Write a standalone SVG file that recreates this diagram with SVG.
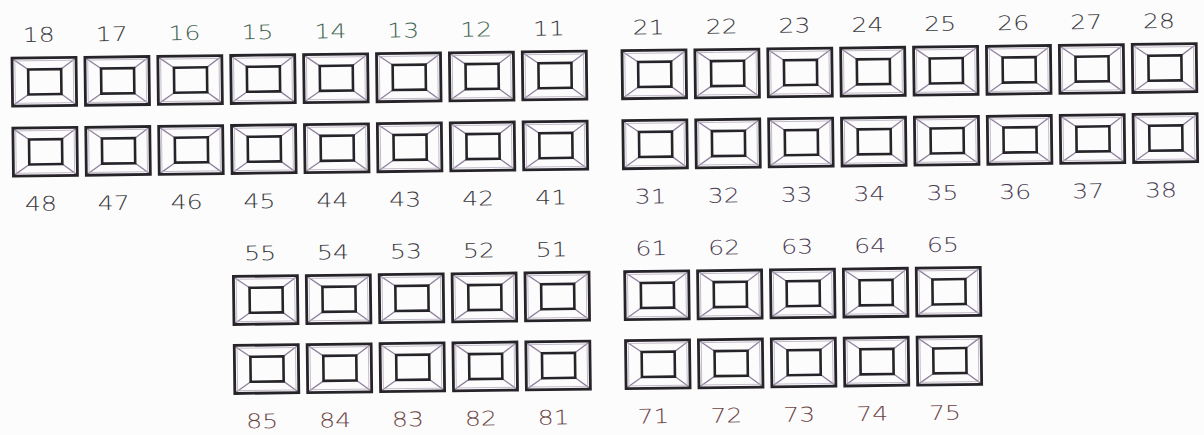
<svg xmlns="http://www.w3.org/2000/svg" xmlns:xlink="http://www.w3.org/1999/xlink" width="1204" height="435" viewBox="0 0 1204 435">
<style>
.outer{fill:none;stroke:#262428;stroke-width:2.8}
.edge{fill:none;stroke:#b4aabd;stroke-width:0.8}
.inner{fill:none;stroke:#262428;stroke-width:2.6}
.diag{stroke:#8f7f9c;stroke-width:1.3}
.lbl{font-family:"DejaVu Sans","Liberation Sans",sans-serif;font-size:20px;font-weight:300;text-anchor:middle;fill:#3a3a3e}
.g{fill:#3d6650}
.r{fill:#6b4444}
.p{fill:#4b3c52}
</style>
<defs>
<g id="tooth">
<line class="diag" x1="1.5" y1="1.5" x2="16" y2="11.5"/>
<line class="diag" x1="62.5" y1="1.5" x2="49" y2="11.5"/>
<line class="diag" x1="1.5" y1="46.5" x2="16" y2="36.5"/>
<line class="diag" x1="62.5" y1="46.5" x2="49" y2="36.5"/>
<rect class="edge" x="2.8" y="2.8" width="58.4" height="42.4"/>
<rect class="inner" x="16" y="11.5" width="33" height="25"/>
<rect class="outer" x="0" y="0" width="64" height="48"/>
</g>
</defs>
<rect width="1204" height="435" fill="#fdfcfd"/>
<g transform="rotate(-0.7 600 217)">
<g id="tooth-18" transform="translate(14 51)"><use href="#tooth"/><text class="lbl" x="27" y="-16" textLength="32" lengthAdjust="spacingAndGlyphs">18</text></g>
<g id="tooth-17" transform="translate(86.9 51)"><use href="#tooth"/><text class="lbl" x="27" y="-16" textLength="32" lengthAdjust="spacingAndGlyphs">17</text></g>
<g id="tooth-16" transform="translate(159.8 51)"><use href="#tooth"/><text class="lbl g" x="27" y="-16" textLength="32" lengthAdjust="spacingAndGlyphs">16</text></g>
<g id="tooth-15" transform="translate(232.7 51)"><use href="#tooth"/><text class="lbl g" x="27" y="-16" textLength="32" lengthAdjust="spacingAndGlyphs">15</text></g>
<g id="tooth-14" transform="translate(305.6 51)"><use href="#tooth"/><text class="lbl g" x="27" y="-16" textLength="32" lengthAdjust="spacingAndGlyphs">14</text></g>
<g id="tooth-13" transform="translate(378.5 51)"><use href="#tooth"/><text class="lbl g" x="27" y="-16" textLength="32" lengthAdjust="spacingAndGlyphs">13</text></g>
<g id="tooth-12" transform="translate(451.4 51)"><use href="#tooth"/><text class="lbl g" x="27" y="-16" textLength="32" lengthAdjust="spacingAndGlyphs">12</text></g>
<g id="tooth-11" transform="translate(524.3 51)"><use href="#tooth"/><text class="lbl" x="27" y="-16" textLength="32" lengthAdjust="spacingAndGlyphs">11</text></g>
<g id="tooth-21" transform="translate(624 51)"><use href="#tooth"/><text class="lbl" x="27" y="-16" textLength="32" lengthAdjust="spacingAndGlyphs">21</text></g>
<g id="tooth-22" transform="translate(696.9 51)"><use href="#tooth"/><text class="lbl" x="27" y="-16" textLength="32" lengthAdjust="spacingAndGlyphs">22</text></g>
<g id="tooth-23" transform="translate(769.8 51)"><use href="#tooth"/><text class="lbl" x="27" y="-16" textLength="32" lengthAdjust="spacingAndGlyphs">23</text></g>
<g id="tooth-24" transform="translate(842.7 51)"><use href="#tooth"/><text class="lbl" x="27" y="-16" textLength="32" lengthAdjust="spacingAndGlyphs">24</text></g>
<g id="tooth-25" transform="translate(915.6 51)"><use href="#tooth"/><text class="lbl" x="27" y="-16" textLength="32" lengthAdjust="spacingAndGlyphs">25</text></g>
<g id="tooth-26" transform="translate(988.5 51)"><use href="#tooth"/><text class="lbl" x="27" y="-16" textLength="32" lengthAdjust="spacingAndGlyphs">26</text></g>
<g id="tooth-27" transform="translate(1061.4 51)"><use href="#tooth"/><text class="lbl" x="27" y="-16" textLength="32" lengthAdjust="spacingAndGlyphs">27</text></g>
<g id="tooth-28" transform="translate(1134.3 51)"><use href="#tooth"/><text class="lbl" x="27" y="-16" textLength="32" lengthAdjust="spacingAndGlyphs">28</text></g>
<g id="tooth-48" transform="translate(14 121)"><use href="#tooth"/><text class="lbl" x="27" y="83" textLength="32" lengthAdjust="spacingAndGlyphs">48</text></g>
<g id="tooth-47" transform="translate(86.9 121)"><use href="#tooth"/><text class="lbl" x="27" y="83" textLength="32" lengthAdjust="spacingAndGlyphs">47</text></g>
<g id="tooth-46" transform="translate(159.8 121)"><use href="#tooth"/><text class="lbl" x="27" y="83" textLength="32" lengthAdjust="spacingAndGlyphs">46</text></g>
<g id="tooth-45" transform="translate(232.7 121)"><use href="#tooth"/><text class="lbl" x="27" y="83" textLength="32" lengthAdjust="spacingAndGlyphs">45</text></g>
<g id="tooth-44" transform="translate(305.6 121)"><use href="#tooth"/><text class="lbl" x="27" y="83" textLength="32" lengthAdjust="spacingAndGlyphs">44</text></g>
<g id="tooth-43" transform="translate(378.5 121)"><use href="#tooth"/><text class="lbl" x="27" y="83" textLength="32" lengthAdjust="spacingAndGlyphs">43</text></g>
<g id="tooth-42" transform="translate(451.4 121)"><use href="#tooth"/><text class="lbl" x="27" y="83" textLength="32" lengthAdjust="spacingAndGlyphs">42</text></g>
<g id="tooth-41" transform="translate(524.3 121)"><use href="#tooth"/><text class="lbl" x="27" y="83" textLength="32" lengthAdjust="spacingAndGlyphs">41</text></g>
<g id="tooth-31" transform="translate(624 121)"><use href="#tooth"/><text class="lbl p" x="27" y="83" textLength="32" lengthAdjust="spacingAndGlyphs">31</text></g>
<g id="tooth-32" transform="translate(696.9 121)"><use href="#tooth"/><text class="lbl p" x="27" y="83" textLength="32" lengthAdjust="spacingAndGlyphs">32</text></g>
<g id="tooth-33" transform="translate(769.8 121)"><use href="#tooth"/><text class="lbl p" x="27" y="83" textLength="32" lengthAdjust="spacingAndGlyphs">33</text></g>
<g id="tooth-34" transform="translate(842.7 121)"><use href="#tooth"/><text class="lbl p" x="27" y="83" textLength="32" lengthAdjust="spacingAndGlyphs">34</text></g>
<g id="tooth-35" transform="translate(915.6 121)"><use href="#tooth"/><text class="lbl p" x="27" y="83" textLength="32" lengthAdjust="spacingAndGlyphs">35</text></g>
<g id="tooth-36" transform="translate(988.5 121)"><use href="#tooth"/><text class="lbl p" x="27" y="83" textLength="32" lengthAdjust="spacingAndGlyphs">36</text></g>
<g id="tooth-37" transform="translate(1061.4 121)"><use href="#tooth"/><text class="lbl p" x="27" y="83" textLength="32" lengthAdjust="spacingAndGlyphs">37</text></g>
<g id="tooth-38" transform="translate(1134.3 121)"><use href="#tooth"/><text class="lbl p" x="27" y="83" textLength="32" lengthAdjust="spacingAndGlyphs">38</text></g>
<g id="tooth-55" transform="translate(232.7 272)"><use href="#tooth"/><text class="lbl" x="27" y="-16" textLength="32" lengthAdjust="spacingAndGlyphs">55</text></g>
<g id="tooth-54" transform="translate(305.6 272)"><use href="#tooth"/><text class="lbl" x="27" y="-16" textLength="32" lengthAdjust="spacingAndGlyphs">54</text></g>
<g id="tooth-53" transform="translate(378.5 272)"><use href="#tooth"/><text class="lbl" x="27" y="-16" textLength="32" lengthAdjust="spacingAndGlyphs">53</text></g>
<g id="tooth-52" transform="translate(451.4 272)"><use href="#tooth"/><text class="lbl" x="27" y="-16" textLength="32" lengthAdjust="spacingAndGlyphs">52</text></g>
<g id="tooth-51" transform="translate(524.3 272)"><use href="#tooth"/><text class="lbl" x="27" y="-16" textLength="32" lengthAdjust="spacingAndGlyphs">51</text></g>
<g id="tooth-61" transform="translate(624 272)"><use href="#tooth"/><text class="lbl p" x="27" y="-16" textLength="32" lengthAdjust="spacingAndGlyphs">61</text></g>
<g id="tooth-62" transform="translate(696.9 272)"><use href="#tooth"/><text class="lbl p" x="27" y="-16" textLength="32" lengthAdjust="spacingAndGlyphs">62</text></g>
<g id="tooth-63" transform="translate(769.8 272)"><use href="#tooth"/><text class="lbl p" x="27" y="-16" textLength="32" lengthAdjust="spacingAndGlyphs">63</text></g>
<g id="tooth-64" transform="translate(842.7 272)"><use href="#tooth"/><text class="lbl p" x="27" y="-16" textLength="32" lengthAdjust="spacingAndGlyphs">64</text></g>
<g id="tooth-65" transform="translate(915.6 272)"><use href="#tooth"/><text class="lbl p" x="27" y="-16" textLength="32" lengthAdjust="spacingAndGlyphs">65</text></g>
<g id="tooth-85" transform="translate(232.7 341)"><use href="#tooth"/><text class="lbl r" x="27" y="83" textLength="32" lengthAdjust="spacingAndGlyphs">85</text></g>
<g id="tooth-84" transform="translate(305.6 341)"><use href="#tooth"/><text class="lbl r" x="27" y="83" textLength="32" lengthAdjust="spacingAndGlyphs">84</text></g>
<g id="tooth-83" transform="translate(378.5 341)"><use href="#tooth"/><text class="lbl r" x="27" y="83" textLength="32" lengthAdjust="spacingAndGlyphs">83</text></g>
<g id="tooth-82" transform="translate(451.4 341)"><use href="#tooth"/><text class="lbl r" x="27" y="83" textLength="32" lengthAdjust="spacingAndGlyphs">82</text></g>
<g id="tooth-81" transform="translate(524.3 341)"><use href="#tooth"/><text class="lbl r" x="27" y="83" textLength="32" lengthAdjust="spacingAndGlyphs">81</text></g>
<g id="tooth-71" transform="translate(624 341)"><use href="#tooth"/><text class="lbl r" x="27" y="83" textLength="32" lengthAdjust="spacingAndGlyphs">71</text></g>
<g id="tooth-72" transform="translate(696.9 341)"><use href="#tooth"/><text class="lbl r" x="27" y="83" textLength="32" lengthAdjust="spacingAndGlyphs">72</text></g>
<g id="tooth-73" transform="translate(769.8 341)"><use href="#tooth"/><text class="lbl r" x="27" y="83" textLength="32" lengthAdjust="spacingAndGlyphs">73</text></g>
<g id="tooth-74" transform="translate(842.7 341)"><use href="#tooth"/><text class="lbl r" x="27" y="83" textLength="32" lengthAdjust="spacingAndGlyphs">74</text></g>
<g id="tooth-75" transform="translate(915.6 341)"><use href="#tooth"/><text class="lbl r" x="27" y="83" textLength="32" lengthAdjust="spacingAndGlyphs">75</text></g>
</g>
</svg>
